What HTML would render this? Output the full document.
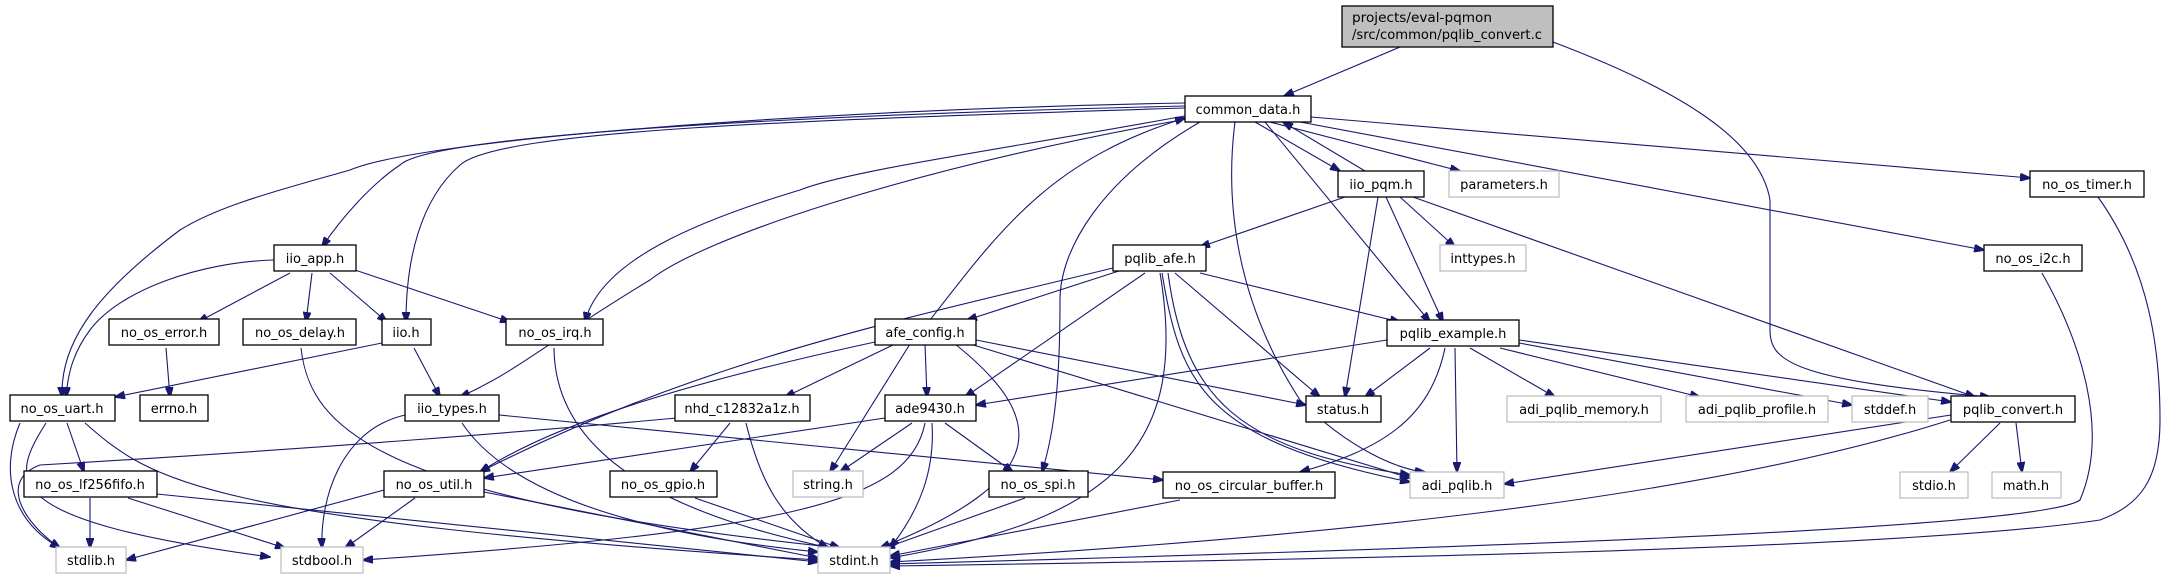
<!DOCTYPE html>
<html><head><meta charset="utf-8"><style>
html,body{margin:0;padding:0;background:#fff;}
svg{display:block;}
text{font-family:"DejaVu Sans","Liberation Sans",sans-serif;font-size:13px;fill:#000;}
.b{fill:#fff;stroke:#000;stroke-width:1.3;}
.g{fill:#fff;stroke:#bfbfbf;stroke-width:1.3;}
.e{fill:none;stroke:#191970;stroke-width:1.1;}
</style></head><body>
<svg width="2163" height="575" viewBox="0 0 2163 575" xmlns="http://www.w3.org/2000/svg">
<defs><marker id="a" markerWidth="11" markerHeight="8" refX="10" refY="4" orient="auto" markerUnits="userSpaceOnUse"><path d="M0,0 L11,4 L0,8 z" fill="#191970" stroke="#191970"/></marker></defs>
<g marker-end="url(#a)">
<!-- top -->
<path class="e" d="M1400 47 L1284 96"/>
<path class="e" d="M1553 42 C1680 90 1760 140 1770 200 L1770 330 C1770 360 1790 380 1990 397"/>
<!-- common_data -->
<path class="e" d="M1185 103 C800 110 420 140 350 170 C280 190 220 205 180 230 C100 290 60 340 62 397"/>
<path class="e" d="M1185 106 C800 115 430 135 400 165 C370 185 340 220 322 247"/>
<path class="e" d="M1185 108 C800 120 500 130 460 165 C420 200 406 260 406 322"/>
<path class="e" d="M1190 115 C1000 150 850 170 800 190 C700 220 600 260 585 322"/>
<path class="e" d="M1192 118 C900 170 700 240 650 280 C550 340 520 370 460 397"/>
<path class="e" d="M1200 122 C1100 180 1060 250 1060 300 C1060 380 1055 430 1042 472"/>
<path class="e" d="M1235 122 C1225 200 1235 300 1300 400 C1350 450 1400 470 1425 472"/>
<path class="e" d="M1255 122 L1340 171"/>
<path class="e" d="M1270 122 L1460 171"/>
<path class="e" d="M1311 117 L2030 178"/>
<path class="e" d="M1300 122 L1984 250"/>
<path class="e" d="M1265 122 L1430 322"/>
<!-- back edges -->
<path class="e" d="M1365 171 L1283 122"/>
<path class="e" d="M930 320 C1000 230 1050 160 1185 118"/>
<!-- iio_pqm -->
<path class="e" d="M1345 197 L1200 247"/>
<path class="e" d="M1400 197 L1455 247"/>
<path class="e" d="M1378 197 L1345 397"/>
<path class="e" d="M1386 197 L1443 322"/>
<path class="e" d="M1413 197 L1975 397"/>
<!-- iio_app -->
<path class="e" d="M290 273 L198 322"/>
<path class="e" d="M312 273 L306 322"/>
<path class="e" d="M330 273 L387 322"/>
<path class="e" d="M355 270 L510 322"/>
<path class="e" d="M274 260 C200 262 120 290 90 330 C75 350 68 370 66 397"/>
<!-- pqlib_afe -->
<path class="e" d="M1122 270 L967 320"/>
<path class="e" d="M1145 273 L965 397"/>
<path class="e" d="M1200 273 L1400 322"/>
<path class="e" d="M1175 273 L1320 397"/>
<path class="e" d="M1162 273 C1180 380 1200 440 1410 482"/>
<path class="e" d="M1168 273 C1185 400 1240 450 1410 475"/>
<path class="e" d="M1160 273 C1190 450 1110 520 890 558"/>
<path class="e" d="M1113 268 C900 320 700 360 480 472"/>
<!-- afe_config -->
<path class="e" d="M895 344 L785 397"/>
<path class="e" d="M925 344 L927 397"/>
<path class="e" d="M875 342 C700 380 560 420 480 472"/>
<path class="e" d="M910 344 L830 472"/>
<path class="e" d="M976 340 L1306 405"/>
<path class="e" d="M955 344 C1050 420 1050 480 880 548"/>
<path class="e" d="M970 344 L1410 478"/>
<!-- pqlib_example -->
<path class="e" d="M1387 340 L976 405"/>
<path class="e" d="M1430 348 L1365 397"/>
<path class="e" d="M1470 348 L1555 397"/>
<path class="e" d="M1500 348 L1700 397"/>
<path class="e" d="M1519 343 L1852 405"/>
<path class="e" d="M1519 340 L1951 402"/>
<path class="e" d="M1455 348 L1457 472"/>
<path class="e" d="M1445 348 C1430 420 1380 450 1300 472"/>
<!-- row4 -->
<path class="e" d="M166 348 L170 397"/>
<path class="e" d="M301 348 C310 430 380 500 840 548"/>
<path class="e" d="M382 343 L115 397"/>
<path class="e" d="M414 348 L440 397"/>
<path class="e" d="M554 348 C555 470 700 520 830 548"/>
<!-- row5 -->
<path class="e" d="M67 423 L84 472"/>
<path class="e" d="M85 423 C150 480 200 520 818 560"/>
<path class="e" d="M46 423 C10 480 -5 520 270 557"/>
<path class="e" d="M20 423 C0 470 10 520 60 548"/>
<path class="e" d="M405 415 C340 430 320 500 322 548"/>
<path class="e" d="M462 423 C500 480 600 530 818 552"/>
<path class="e" d="M499 415 L1163 480"/>
<path class="e" d="M720 414 C550 430 300 450 40 465 C0 480 20 520 60 548"/>
<path class="e" d="M730 423 L690 472"/>
<path class="e" d="M746 423 C760 480 780 520 828 548"/>
<path class="e" d="M885 418 L484 478"/>
<path class="e" d="M912 423 L840 472"/>
<path class="e" d="M945 423 L1013 472"/>
<path class="e" d="M932 423 C935 470 920 510 890 548"/>
<path class="e" d="M925 423 C910 500 800 530 363 560"/>
<!-- convert -->
<path class="e" d="M1951 415 L1504 484"/>
<path class="e" d="M1950 420 C1700 500 1300 540 890 562"/>
<path class="e" d="M2000 423 L1950 472"/>
<path class="e" d="M2016 423 L2022 472"/>
<!-- row6 -->
<path class="e" d="M90 498 L90 548"/>
<path class="e" d="M128 498 L285 548"/>
<path class="e" d="M157 494 L818 562"/>
<path class="e" d="M384 490 L126 560"/>
<path class="e" d="M415 498 L345 548"/>
<path class="e" d="M484 492 L818 558"/>
<path class="e" d="M695 498 L840 548"/>
<path class="e" d="M1025 498 L885 548"/>
<path class="e" d="M1180 500 L890 556"/>
<!-- timer, i2c -->
<path class="e" d="M2098 197 C2150 270 2160 350 2160 420 C2160 480 2140 505 2100 520 C1900 550 1300 560 890 566"/>
<path class="e" d="M2042 273 C2080 340 2110 430 2080 500 C2040 530 1400 550 890 564"/>
</g>
<!-- nodes -->
<rect x="1342" y="6" width="211" height="41" fill="#bfbfbf" stroke="#000" stroke-width="1.3"/>
<text x="1352" y="22" textLength="140" lengthAdjust="spacingAndGlyphs">projects/eval-pqmon</text>
<text x="1352" y="39" textLength="190" lengthAdjust="spacingAndGlyphs">/src/common/pqlib_convert.c</text>
<g text-anchor="middle">
<rect class="b" x="1185" y="96" width="126" height="26"/><text x="1248" y="114">common_data.h</text>
<rect class="b" x="1338" y="171" width="86" height="26"/><text x="1381" y="189">iio_pqm.h</text>
<rect class="g" x="1449" y="171" width="110" height="26"/><text x="1504" y="189">parameters.h</text>
<rect class="b" x="2030" y="171" width="114" height="26"/><text x="2087" y="189">no_os_timer.h</text>
<rect class="b" x="274" y="245" width="82" height="26"/><text x="315" y="263">iio_app.h</text>
<rect class="b" x="1113" y="245" width="93" height="26"/><text x="1160" y="263">pqlib_afe.h</text>
<rect class="g" x="1440" y="245" width="86" height="26"/><text x="1483" y="263">inttypes.h</text>
<rect class="b" x="1984" y="245" width="98" height="26"/><text x="2033" y="263">no_os_i2c.h</text>
<rect class="b" x="109" y="319" width="110" height="26"/><text x="164" y="337">no_os_error.h</text>
<rect class="b" x="243" y="319" width="113" height="26"/><text x="300" y="337">no_os_delay.h</text>
<rect class="b" x="382" y="319" width="49" height="26"/><text x="406" y="337">iio.h</text>
<rect class="b" x="506" y="319" width="97" height="26"/><text x="555" y="337">no_os_irq.h</text>
<rect class="b" x="875" y="319" width="101" height="26"/><text x="925" y="337">afe_config.h</text>
<rect class="b" x="1387" y="320" width="132" height="26"/><text x="1453" y="338">pqlib_example.h</text>
<rect class="b" x="10" y="395" width="105" height="26"/><text x="62" y="413">no_os_uart.h</text>
<rect class="b" x="140" y="395" width="68" height="26"/><text x="174" y="413">errno.h</text>
<rect class="b" x="405" y="395" width="94" height="26"/><text x="452" y="413">iio_types.h</text>
<rect class="b" x="675" y="395" width="135" height="26"/><text x="742" y="413">nhd_c12832a1z.h</text>
<rect class="b" x="885" y="395" width="91" height="26"/><text x="930" y="413">ade9430.h</text>
<rect class="b" x="1306" y="396" width="75" height="26"/><text x="1343" y="414">status.h</text>
<rect class="g" x="1507" y="396" width="154" height="26"/><text x="1584" y="414">adi_pqlib_memory.h</text>
<rect class="g" x="1686" y="396" width="142" height="26"/><text x="1757" y="414">adi_pqlib_profile.h</text>
<rect class="g" x="1852" y="396" width="76" height="26"/><text x="1890" y="414">stddef.h</text>
<rect class="b" x="1951" y="396" width="124" height="26"/><text x="2013" y="414">pqlib_convert.h</text>
<rect class="b" x="24" y="471" width="133" height="26"/><text x="90" y="489">no_os_lf256fifo.h</text>
<rect class="b" x="384" y="471" width="100" height="26"/><text x="434" y="489">no_os_util.h</text>
<rect class="b" x="610" y="471" width="107" height="26"/><text x="663" y="489">no_os_gpio.h</text>
<rect class="g" x="793" y="471" width="70" height="26"/><text x="828" y="489">string.h</text>
<rect class="b" x="989" y="471" width="99" height="26"/><text x="1038" y="489">no_os_spi.h</text>
<rect class="b" x="1163" y="472" width="172" height="26"/><text x="1249" y="490">no_os_circular_buffer.h</text>
<rect class="g" x="1410" y="472" width="94" height="26"/><text x="1457" y="490">adi_pqlib.h</text>
<rect class="g" x="1900" y="472" width="68" height="26"/><text x="1934" y="490">stdio.h</text>
<rect class="g" x="1992" y="472" width="69" height="26"/><text x="2026" y="490">math.h</text>
<rect class="g" x="56" y="547" width="70" height="26"/><text x="91" y="565">stdlib.h</text>
<rect class="g" x="281" y="547" width="82" height="26"/><text x="322" y="565">stdbool.h</text>
<rect class="g" x="818" y="547" width="72" height="26"/><text x="854" y="565">stdint.h</text>
</g>
</svg>
</body></html>
